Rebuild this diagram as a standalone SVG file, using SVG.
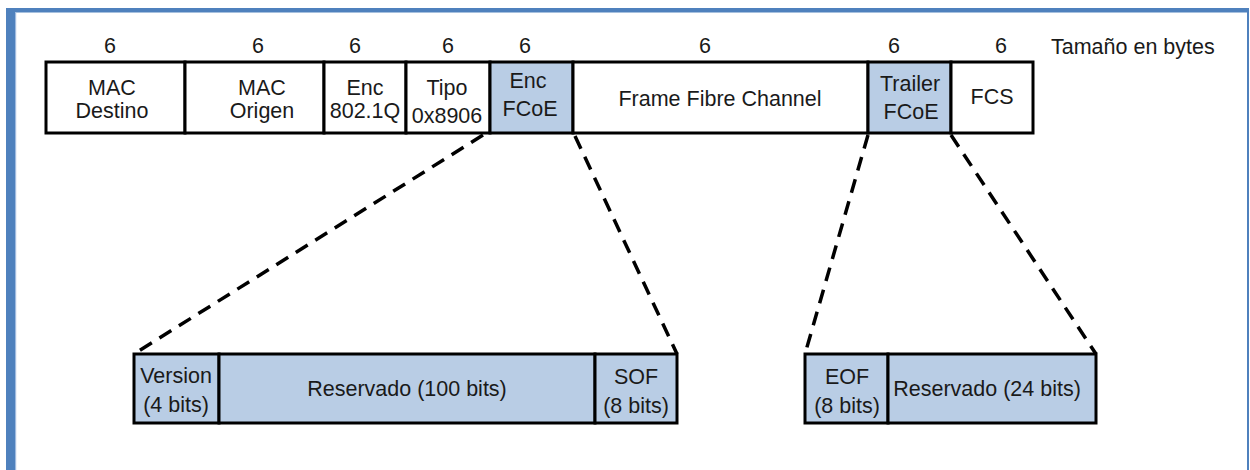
<svg xmlns="http://www.w3.org/2000/svg" width="1250" height="470" viewBox="0 0 1250 470">
<style>
text{font-family:"Liberation Sans",Arial,sans-serif;font-size:21.5px;fill:#1a1a1a;text-anchor:middle}
.w{fill:#ffffff;stroke:#000;stroke-width:3}
.b{fill:#b9cde5;stroke:#000;stroke-width:3}
.d{fill:none;stroke:#000;stroke-width:3.5;stroke-dasharray:14 9}
</style>
<rect x="0" y="0" width="1250" height="470" fill="#ffffff"/>
<g id="frame">
<rect x="6" y="8" width="9" height="462" fill="#4f81bd"/>
<rect x="6" y="8" width="1243" height="4.5" fill="#4f81bd"/>
<rect x="1247" y="8" width="2" height="462" fill="#4f81bd"/>
<rect x="15" y="12.5" width="1.2" height="458" fill="#9fbbe0"/>
</g>
<g id="sizes">
<text x="110" y="53">6</text>
<text x="258" y="53">6</text>
<text x="355" y="53">6</text>
<text x="448" y="53">6</text>
<text x="525" y="53">6</text>
<text x="705" y="53">6</text>
<text x="894" y="53">6</text>
<text x="1001" y="53">6</text>
<text x="1051" y="54" style="text-anchor:start">Tamaño en bytes</text>
</g>
<g id="connectors">
<line class="d" x1="483" y1="135" x2="134" y2="354"/>
<line class="d" x1="575" y1="136" x2="677" y2="354"/>
<line class="d" x1="868" y1="135" x2="805" y2="354"/>
<line class="d" x1="951" y1="135" x2="1096" y2="354"/>
</g>
<g id="mac-destino">
<rect class="w" x="46" y="62" width="139" height="71"/>
<text x="112" y="95">MAC</text>
<text x="112" y="118">Destino</text>
</g>
<g id="mac-origen">
<rect class="w" x="185" y="62" width="139" height="71"/>
<text x="262" y="95">MAC</text>
<text x="262" y="118">Origen</text>
</g>
<g id="enc-8021q">
<rect class="w" x="324" y="62" width="82" height="71"/>
<text x="365" y="95">Enc</text>
<text x="365" y="118">802.1Q</text>
</g>
<g id="tipo">
<rect class="w" x="406" y="62" width="84" height="71"/>
<text x="447" y="95">Tipo</text>
<text x="447" y="123">0x8906</text>
</g>
<g id="enc-fcoe">
<rect class="b" x="490" y="62" width="83" height="71"/>
<text x="528" y="88">Enc</text>
<text x="530" y="116">FCoE</text>
</g>
<g id="frame-fc">
<rect class="w" x="573" y="62" width="295" height="71"/>
<text x="720" y="106">Frame Fibre Channel</text>
</g>
<g id="trailer-fcoe">
<rect class="b" x="868" y="62" width="83" height="71"/>
<text x="910" y="91">Trailer</text>
<text x="911" y="119">FCoE</text>
</g>
<g id="fcs">
<rect class="w" x="951" y="62" width="82" height="71"/>
<text x="992" y="104">FCS</text>
</g>
<g id="version">
<rect class="b" x="134" y="354" width="85" height="69"/>
<text x="176" y="383">Version</text>
<text x="176" y="412">(4 bits)</text>
</g>
<g id="reservado-100">
<rect class="b" x="219" y="354" width="376" height="69"/>
<text x="407" y="396">Reservado (100 bits)</text>
</g>
<g id="sof">
<rect class="b" x="595" y="354" width="82" height="69"/>
<text x="636" y="384">SOF</text>
<text x="636" y="413">(8 bits)</text>
</g>
<g id="eof">
<rect class="b" x="805" y="354" width="83" height="69"/>
<text x="847" y="384">EOF</text>
<text x="847" y="413">(8 bits)</text>
</g>
<g id="reservado-24">
<rect class="b" x="888" y="354" width="208" height="69"/>
<text x="987" y="396">Reservado (24 bits)</text>
</g>
</svg>
